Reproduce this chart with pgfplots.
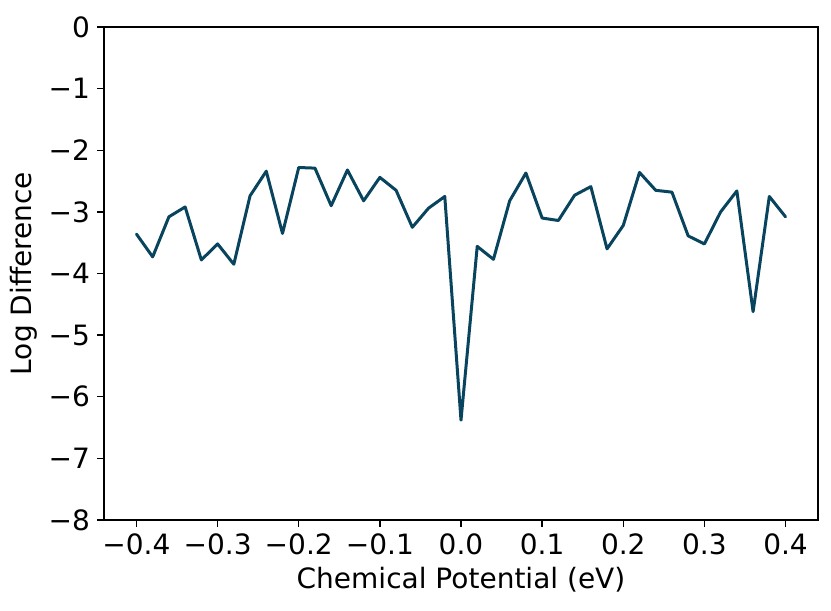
\documentclass[border=0pt]{standalone}
\usepackage{fontspec}
\setmainfont{DejaVu Sans}
\usepackage{pgfplots}
\pgfplotsset{compat=1.18}
\definecolor{lineCol}{RGB}{9,68,94}

\begin{document}
\begin{tikzpicture}
  \begin{axis}[
      name=ax,
      scale only axis, width=357pt, height=246.5pt,
      xmin=-0.44, xmax=0.44, ymin=-8, ymax=0,
      xtick={-0.4,-0.3,-0.2,-0.1,0,0.1,0.2,0.3,0.4},
      xticklabels={−0.4,−0.3,−0.2,−0.1,0.0,0.1,0.2,0.3,0.4},
      ytick={-8,-7,-6,-5,-4,-3,-2,-1,0},
      yticklabels={−8,−7,−6,−5,−4,−3,−2,−1,0},
      tick align=outside, major tick length=3.5pt,
      tick style={black, line width=0.7pt},
      axis line style={line width=0.7pt},
      xtick pos=bottom, ytick pos=left,
      ticklabel style={font=\fontsize{14}{16}\selectfont},
      label style={font=\fontsize{14}{16}\selectfont},
      xlabel={Chemical Potential (eV)},
      ylabel={Log Difference},
      xlabel style={yshift=1pt},
      ylabel style={yshift=-1pt},
    ]
    \addplot[lineCol, line width=1.5pt, line join=round, line cap=round] coordinates {
      (-0.40,-3.36) (-0.38,-3.73) (-0.36,-3.08) (-0.34,-2.92) (-0.32,-3.78)
      (-0.30,-3.52) (-0.28,-3.85) (-0.26,-2.74) (-0.24,-2.34) (-0.22,-3.35)
      (-0.20,-2.28) (-0.18,-2.29) (-0.16,-2.90) (-0.14,-2.32) (-0.12,-2.82)
      (-0.10,-2.44) (-0.08,-2.65) (-0.06,-3.25) (-0.04,-2.94) (-0.02,-2.75)
      (0.00,-6.38) (0.02,-3.56) (0.04,-3.77) (0.06,-2.82) (0.08,-2.37)
      (0.10,-3.10) (0.12,-3.14) (0.14,-2.73) (0.16,-2.59) (0.18,-3.60)
      (0.20,-3.22) (0.22,-2.36) (0.24,-2.65) (0.26,-2.68) (0.28,-3.39)
      (0.30,-3.52) (0.32,-3.00) (0.34,-2.66) (0.36,-4.62) (0.38,-2.75)
      (0.40,-3.08)
    };
  \end{axis}
  \pgfresetboundingbox
  \path ([shift={(-52pt,-45pt)}]ax.south west) rectangle ([shift={(6.5pt,13.5pt)}]ax.north east);
\end{tikzpicture}
\end{document}
